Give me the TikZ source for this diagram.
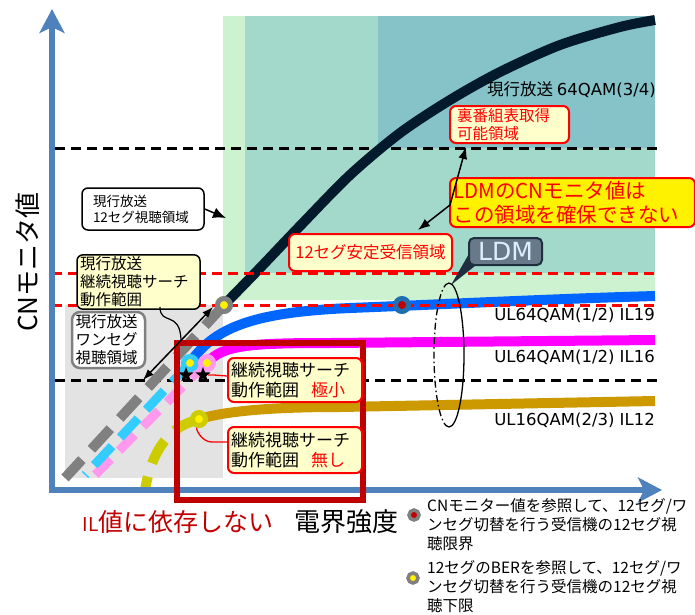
\documentclass[tikz,border=0pt]{standalone}
\usepackage{fontspec}
\setmainfont{Noto Sans CJK JP}
\newfontfamily\latf{DejaVu Sans}
\usetikzlibrary{arrows.meta,shapes.geometric}
\definecolor{axisblue}{HTML}{4F81BD}
\definecolor{lgreen}{HTML}{CCF2CF}
\definecolor{tealA}{HTML}{A3D9CA}
\definecolor{tealB}{HTML}{85C3C8}
\definecolor{lgray}{HTML}{E3E3E3}
\definecolor{curveblack}{HTML}{021A2C}
\definecolor{bluecurve}{HTML}{0066FF}
\definecolor{magcurve}{HTML}{FF00FF}
\definecolor{goldcurve}{HTML}{CC9900}
\definecolor{cyand}{HTML}{33CCFF}
\definecolor{pinkd}{HTML}{FF99EE}
\definecolor{olived}{HTML}{CCCC00}
\definecolor{grayd}{HTML}{808080}
\definecolor{darkred}{HTML}{C00000}
\definecolor{boxyellow}{HTML}{FFFFCC}
\definecolor{dotblue}{HTML}{2070B0}
\definecolor{dotred}{HTML}{C00000}
\definecolor{ldmfill}{HTML}{687A8A}
\definecolor{ldmdark}{HTML}{1F2F3F}
\definecolor{ldmtext}{HTML}{DDEEFF}
\begin{document}
\begin{tikzpicture}[x=1pt,y=-1pt,
  bdash/.style={line width=3pt, black, dash pattern=on 10pt off 6pt},
  rdash/.style={line width=3pt, red, dash pattern=on 10pt off 6pt},
  dot/.style 2 args={circle, draw=#1, fill=#2, line width=5pt, minimum size=13pt, inner sep=0pt},
  ldot/.style 2 args={circle, draw=#1, fill=#2, line width=3.5pt, minimum size=10pt, inner sep=0pt},
  burst/.style={star, star points=5, star point ratio=2.4, fill=black, minimum size=16pt, inner sep=0pt},
  wbox/.style={draw=black, fill=white, line width=1.5pt, rounded corners=6pt, align=left, inner sep=2pt},
  ybox/.style={draw=black, fill=boxyellow, line width=1.5pt, rounded corners=6pt, align=left, inner sep=2pt},
  gbox/.style={draw=grayd, fill=white, line width=2.5pt, rounded corners=8pt, align=left, inner sep=2pt},
  rbox/.style={draw=red, fill=boxyellow, line width=2pt, rounded corners=6pt, align=left, inner sep=2pt, text=red},
  lbl/.style={anchor=east, inner sep=0pt, font=\latf\fontsize{16.5}{19}\selectfont},
  tkarrow/.style={line width=1.5pt, black},
]
\useasboundingbox (0,0) rectangle (695,614);

% background regions
\fill[lgreen] (223,16) rectangle (655,300);
\fill[tealA] (245,16) rectangle (655,273);
\fill[tealB] (378,16) rectangle (655,148);
\fill[lgray] (65,305) rectangle (223,478);

% black dashed levels
\draw[bdash] (55,148) -- (660,148);
\draw[bdash] (55,380) -- (660,380);

% dashed low parts of the curves
\draw[line width=10pt, grayd, dash pattern=on 28pt off 14pt] (224,305) -- (65,478);
\draw[line width=9pt, pinkd, dash pattern=on 22pt off 12pt] (207,363) .. controls (196,373) and (186,383) .. (92,478);
\draw[line width=9pt, cyand, dash pattern=on 26pt off 12pt] (190,363) -- (85,475);
\draw[line width=10pt, olived, dash pattern=on 26pt off 14pt] (198,420) .. controls (172,425) and (152,448) .. (145,490);

% solid curves
\draw[line width=10pt, curveblack] plot[smooth] coordinates {(224,305) (260,268) (300,226) (350,175) (400,133) (450,100) (500,72) (560,45) (620,27) (655,20)};
\draw[line width=10pt, bluecurve] (190,363) .. controls (215,325) and (260,312) .. (350,308) .. controls (450,304) and (550,299) .. (655,296);
\draw[line width=10pt, magcurve] (207,363) .. controls (222,345) and (250,343) .. (330,343) -- (655,340);
\draw[line width=10pt, goldcurve] (199,419) .. controls (230,410) and (280,407) .. (340,407) -- (655,401);

% red dashed levels
\draw[rdash] (52,273) -- (655,273);
\draw[rdash] (52,305) -- (655,305);

% marker dots
\node[dot={grayd}{yellow}] (g1) at (224,305) {};
\node[dot={cyand}{yellow}] (c1) at (190,363) {};
\node[dot={pinkd}{yellow}] (p1) at (207,363) {};
\node[dot={olived}{yellow}] (y1) at (199,419) {};
\node[dot={dotblue}{dotred}] (bd) at (402,305) {};

% stars
\node[burst] (s1) at (186,375) {};
\node[burst] (s2) at (203,375) {};

% axes
\draw[axisblue, line width=6pt, line join=miter, {Stealth[length=24pt,width=25pt,inset=6pt]}-{Stealth[length=24pt,width=25pt,inset=6pt]}] (52,9) -- (52,490) -- (662,490);

% big dark red frame
\draw[darkred, line width=6pt] (177,343) rectangle (363,500);

% boxes left
\node[wbox, minimum width=122pt, minimum height=42pt, text width=112pt, font=\fontsize{13.5}{16}\selectfont] (b1) at (143,209) {\hspace*{6pt}現行放送\\\hspace*{6pt}12セグ視聴領域};
\coordinate (t1) at (226,218);
\draw[tkarrow, -{Latex[length=13pt,width=11pt]}] (b1.east) -- (t1);

\node[ybox, minimum width=123pt, minimum height=50pt, text width=117pt, font=\fontsize{15.5}{18}\selectfont] (b2) at (138.5,282) {現行放送\\継続視聴サーチ\\動作範囲};
\node[gbox, minimum width=73pt, minimum height=56pt, text width=66pt, font=\fontsize{15.5}{18}\selectfont] (b3) at (108.5,340) {現行放送\\ワンセグ\\視聴領域};

\coordinate (a1) at (213,307);
\coordinate (a2) at (143,380);
\draw[tkarrow, {Latex[length=11pt,width=8pt]}-{Latex[length=11pt,width=8pt]}] (a1) -- (a2);
\coordinate (k1) at (181,340);
\draw[line width=1.2pt] (160,307) .. controls (160,326) and (180,310) .. (k1);

% boxes inside red frame
\node[rbox, text=black, minimum width=134pt, minimum height=44pt, text width=128pt, font=\fontsize{17}{20}\selectfont] (b6) at (295,380) {継続視聴サーチ\\動作範囲\hspace{12pt}\textcolor{red}{極小}};
\node[rbox, text=black, minimum width=134pt, minimum height=46pt, text width=128pt, font=\fontsize{17}{20}\selectfont] (b7) at (295,450) {継続視聴サーチ\\動作範囲\hspace{12pt}\textcolor{red}{無し}};
\draw[red, line width=1.3pt] (b6.west) ++(0,-4) -- (214,375) -- (s2);
\draw[red, line width=1.3pt] (b7.west) ++(0,-8) -- (212,442) .. controls (202,442) and (196,430) .. (y1);

% boxes upper right
\node[rbox, minimum width=163pt, minimum height=37pt, align=center, font=\fontsize{16.5}{19}\selectfont] (b8) at (370.5,252.5) {12セグ安定受信領域};
\node[rbox, minimum width=119pt, minimum height=37pt, text width=105pt, font=\fontsize{15.5}{18}\selectfont] (b9) at (509.5,124.5) {裏番組表取得\\可能領域};
\node[rbox, fill=yellow, minimum width=245pt, minimum height=49pt, text width=238pt, font=\fontsize{20.5}{24}\selectfont] (b10) at (572.5,202.5) {LDMのCNモニタ値は\\この領域を確保できない};
\coordinate (m1) at (466,147);
\coordinate (m2) at (450,205);
\coordinate (m3) at (418,230);
\draw[tkarrow, {Latex[length=12pt,width=9pt]}-{Latex[length=12pt,width=9pt]}] (m1) -- (m2) -- (m3);

% LDM callout
\coordinate (lt) at (451,285);
\fill[ldmdark] (470,252) -- (480,262) -- (lt) -- cycle;
\node[draw=ldmdark, fill=ldmfill, line width=2pt, rounded corners=5pt, minimum width=73pt, minimum height=27pt, inner sep=0pt, text=ldmtext, font=\latf\fontsize{25}{25}\selectfont] (ldm) at (505.5,251.5) {LDM};

% ellipse
\draw[line width=1.3pt, dash pattern=on 7pt off 3pt on 1.5pt off 3pt] (449,283) arc[start angle=90, end angle=270, x radius=15pt, y radius=72pt];
\draw[line width=1.3pt] (449,427) arc[start angle=270, end angle=450, x radius=15pt, y radius=72pt];

% curve labels
\node[anchor=east, inner sep=0pt, font=\fontsize{16.5}{19}\selectfont] (l0) at (656,90) {現行放送 {\latf 64QAM(3/4)}};
\node[lbl] (l1) at (655,315) {UL64QAM(1/2) IL19};
\node[lbl] (l2) at (655,357) {UL64QAM(1/2) IL16};
\node[lbl] (l3) at (655,420) {UL16QAM(2/3) IL12};

% axis titles
\node[rotate=90, inner sep=0pt, font=\fontsize{26}{26}\selectfont] (ytitle) at (28,262) {CNモニタ値};
\node[inner sep=0pt, text=darkred, font=\fontsize{25}{25}\selectfont] (il) at (178,522) {{\fontsize{19}{19}\selectfont IL}値に依存しない};
\node[inner sep=0pt, font=\fontsize{26}{26}\selectfont] (xtitle) at (346,522) {電界強度};

% legend
\node[ldot={grayd}{dotred}] (ld1) at (414,515) {};
\node[anchor=north west, inner sep=0pt, align=left, font=\fontsize{15.5}{19}\selectfont] (lt1) at (427,498) {CNモニター値を参照して、12セグ/ワ\\ンセグ切替を行う受信機の12セグ視\\聴限界};
\node[ldot={grayd}{yellow}] (ld2) at (413,578) {};
\node[anchor=north west, inner sep=0pt, align=left, font=\fontsize{15.5}{19}\selectfont] (lt2) at (427,560) {12セグのBERを参照して、12セグ/ワ\\ンセグ切替を行う受信機の12セグ視\\聴下限};
\end{tikzpicture}
\end{document}
